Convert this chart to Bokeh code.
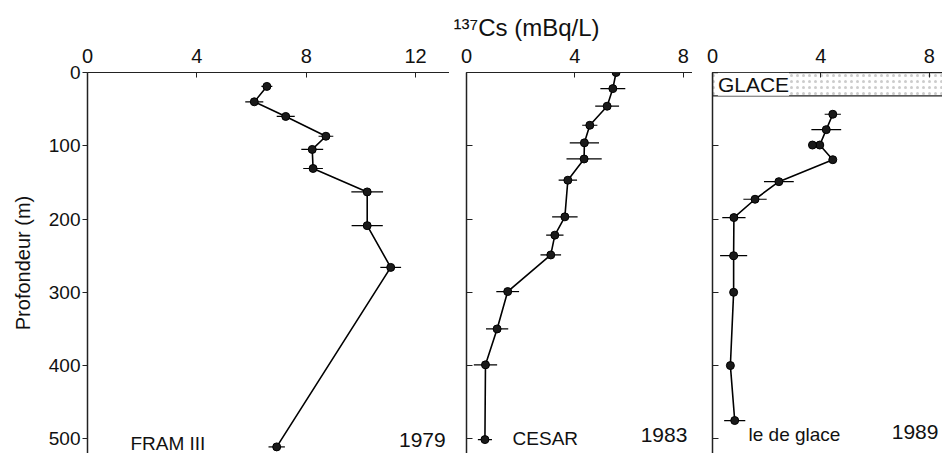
from bokeh.plotting import figure
from bokeh.layouts import row
from bokeh.models import Range1d, FixedTicker, Label
from bokeh.embed import file_html
from bokeh.resources import INLINE

FONT = "Liberation Sans"

# ---- data ----
x_ticks1 = [0, 4, 8, 12]
x_ticks23 = [0, 4, 8]
y_ticks = [0, 100, 200, 300, 400, 500]

# FRAM III 1979
cs1 = [6.56, 6.1, 7.25, 8.72, 8.22, 8.25, 10.23, 10.23, 11.09, 6.92]
d1 = [19, 40, 60, 87, 105, 131, 163, 209, 266, 511]
e1 = [0.2, 0.33, 0.33, 0.27, 0.4, 0.36, 0.58, 0.57, 0.38, 0.3]

# CESAR 1983
cs2 = [5.52, 5.40, 5.19, 4.55, 4.35, 4.34, 3.74, 3.63, 3.26, 3.11, 1.52, 1.13, 0.70, 0.68]
d2 = [0, 22, 46, 72, 96, 118, 147, 197, 222, 249, 299, 350, 399, 501]
e2 = [0.3, 0.46, 0.44, 0.28, 0.54, 0.65, 0.34, 0.47, 0.32, 0.38, 0.42, 0.41, 0.43, 0.26]

# Ile de glace 1989
cs3 = [4.44, 4.2, 3.96, 4.44, 2.45, 1.57, 0.79, 0.78, 0.78, 0.66, 0.82]
d3 = [57, 78, 99, 119, 149, 173, 198, 250, 300, 400, 475]
e3 = [0.3, 0.55, 0.0, 0.0, 0.55, 0.43, 0.43, 0.5, 0.0, 0.0, 0.39]
cs3_extra = [3.69]
d3_extra = [99]

ice_depth = 32
DEPTH_MAX = 520

H = 453
TOP = 72


def make_fig(width, left, xmax, xticks, show_y_labels):
    p = figure(width=width, height=H, x_range=Range1d(0, xmax),
               y_range=Range1d(DEPTH_MAX, 0), x_axis_location="above",
               output_backend="svg", toolbar_location=None,
               min_border_left=left, min_border_right=0,
               min_border_top=TOP, min_border_bottom=0)
    p.outline_line_color = None
    p.grid.visible = False
    p.background_fill_color = "white"
    p.border_fill_color = "white"
    xa = p.xaxis[0]
    xa.ticker = FixedTicker(ticks=xticks)
    xa.minor_tick_line_color = None
    xa.major_tick_in = 5
    xa.major_tick_out = 0
    xa.major_label_standoff = 10
    xa.major_label_text_font = FONT
    xa.major_label_text_font_size = "20px"
    xa.major_label_text_color = "#111111"
    xa.axis_line_color = "#222222"
    xa.major_tick_line_color = "#222222"
    ya = p.yaxis[0]
    ya.ticker = FixedTicker(ticks=y_ticks)
    ya.minor_tick_line_color = None
    ya.axis_line_width = 1.5
    ya.axis_line_color = "#222222"
    ya.major_tick_line_color = "#222222"
    if show_y_labels:
        ya.major_tick_out = 5
        ya.major_tick_in = 0
        ya.major_label_standoff = 2
        ya.major_label_text_font = FONT
        ya.major_label_text_font_size = "19px"
        ya.major_label_text_color = "#111111"
        ya.axis_label = "Profondeur (m)"
        ya.axis_label_text_font = FONT
        ya.axis_label_text_font_size = "20px"
        ya.axis_label_text_font_style = "normal"
        ya.axis_label_text_color = "#111111"
        ya.axis_label_standoff = 12
    else:
        ya.major_tick_out = 0
        ya.major_tick_in = 6
        ya.major_label_standoff = 0
        ya.major_label_overrides = {t: "" for t in y_ticks}
    return p


def draw_series(p, xs, ds, es):
    p.line(xs, ds, line_color="black", line_width=1.6)
    x0 = [x - e for x, e in zip(xs, es)]
    x1 = [x + e for x, e in zip(xs, es)]
    p.segment(x0=x0, y0=ds, x1=x1, y1=ds, line_color="black", line_width=1.2)
    p.scatter(xs, ds, size=8, fill_color="#1a1a1a", line_color="black")


def add_text(p, x, y, txt, size, align):
    p.add_layout(Label(x=x, y=y, text=txt, text_font=FONT, text_font_size=size,
                       text_align=align, text_baseline="middle", text_color="#111111"))


p1 = make_fig(449, 87, 13.24, x_ticks1, True)
draw_series(p1, cs1, d1, e1)
add_text(p1, 1.57, 506, "FRAM III", "19px", "left")
add_text(p1, 13.1, 501, "1979", "21px", "right")

p2 = make_fig(243, 17, 8.34, x_ticks23, False)
p2.title.text = "¹³⁷Cs (mBq/L)"
p2.title.align = "left"
p2.title.offset = -13
p2.title.text_font = FONT
p2.title.text_font_size = "24px"
p2.title.text_font_style = "normal"
p2.title.text_color = "#111111"
draw_series(p2, cs2, d2, e2)
add_text(p2, 1.7, 500, "CESAR", "19px", "left")
add_text(p2, 8.15, 495, "1983", "21px", "right")

p3 = make_fig(250, 20, 8.49, x_ticks23, False)
p3.quad(left=0, right=9.5, top=0, bottom=ice_depth, fill_color="white",
        hatch_pattern="dot", hatch_color="#aaaaaa", hatch_scale=6, hatch_alpha=0.6,
        line_color="#222222", line_width=1.3)
p3.add_layout(Label(x=0.2, y=ice_depth / 2, text="GLACE", text_font=FONT,
                    text_font_size="21px", text_baseline="middle", text_color="#111111",
                    background_fill_color="white"))
draw_series(p3, cs3, d3, e3)
p3.scatter(cs3_extra, d3_extra, size=8, fill_color="#1a1a1a", line_color="black")
add_text(p3, 1.33, 494, "le de glace", "19px", "left")
add_text(p3, 8.34, 490, "1989", "21px", "right")

layout = row(p1, p2, p3, spacing=0)
open("out.html", "w").write(file_html(layout, INLINE))
